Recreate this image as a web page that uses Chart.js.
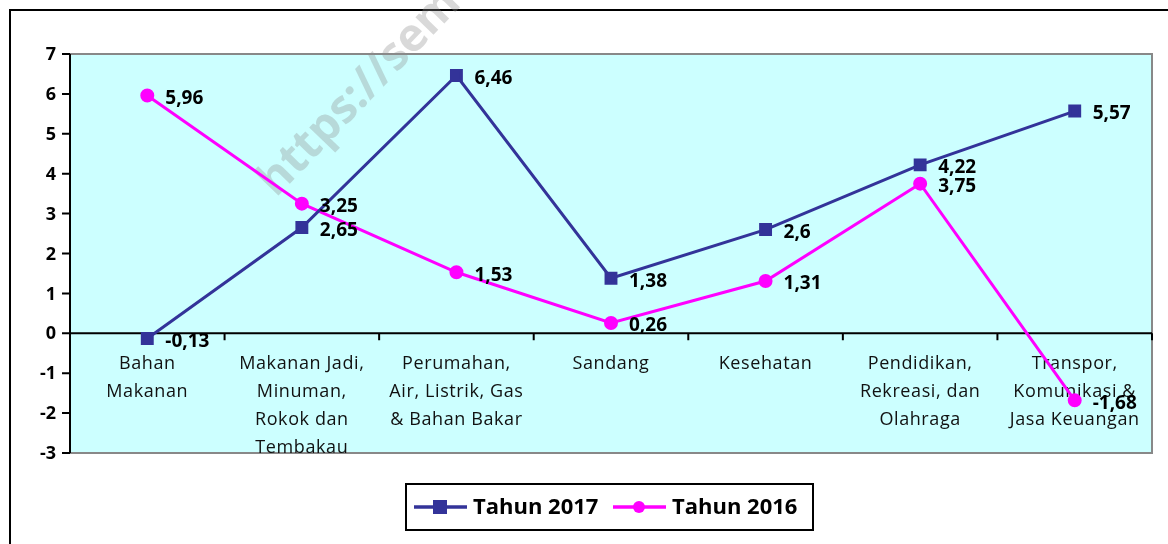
<!DOCTYPE html>
<html>
<head>
<meta charset="utf-8">
<script src="https://cdn.jsdelivr.net/npm/chart.js@4"></script>
<style>
  html, body { margin: 0; padding: 0; background: #fff; }
  #wrap { width: 1168px; height: 544px; position: relative; }
</style>
</head>
<body>
<div id="wrap"><canvas id="chart" width="1168" height="544"></canvas></div>
<script>
const categories = [
  ['Bahan', 'Makanan'],
  ['Makanan Jadi,', 'Minuman,', 'Rokok dan', 'Tembakau'],
  ['Perumahan,', 'Air, Listrik, Gas', '& Bahan Bakar'],
  ['Sandang'],
  ['Kesehatan'],
  ['Pendidikan,', 'Rekreasi, dan', 'Olahraga'],
  ['Transpor,', 'Komunikasi &', 'Jasa Keuangan']
];
const tahun2017 = [-0.13, 2.65, 6.46, 1.38, 2.6, 4.22, 5.57];
const tahun2016 = [5.96, 3.25, 1.53, 0.26, 1.31, 3.75, -1.68];
const yTicks = [-3, -2, -1, 0, 1, 2, 3, 4, 5, 6, 7];

const fmt = v => String(v).replace('.', ',');

// background, frame, axes, category labels, watermark
const framePlugin = {
  id: 'frame',
  beforeDatasetsDraw(chart) {
    const { ctx, chartArea: a, scales: { x, y } } = chart;
    ctx.save();
    ctx.fillStyle = '#CCFFFF';
    ctx.fillRect(a.left, a.top, a.right - a.left, a.bottom - a.top);

    // outer border
    ctx.strokeStyle = '#000';
    ctx.lineWidth = 2;
    ctx.beginPath();
    ctx.moveTo(10, 544); ctx.lineTo(10, 10); ctx.lineTo(1168, 10);
    ctx.stroke();

    // plot border (gray top/right/bottom)
    ctx.strokeStyle = '#888';
    ctx.lineWidth = 2;
    ctx.beginPath();
    ctx.moveTo(a.left, a.top); ctx.lineTo(a.right, a.top);
    ctx.lineTo(a.right, a.bottom); ctx.lineTo(a.left, a.bottom);
    ctx.stroke();

    // y axis + ticks
    ctx.strokeStyle = '#000';
    ctx.beginPath();
    ctx.moveTo(a.left, a.top); ctx.lineTo(a.left, a.bottom);
    yTicks.forEach(t => {
      const py = y.getPixelForValue(t);
      ctx.moveTo(a.left - 8, py); ctx.lineTo(a.left, py);
    });
    ctx.stroke();
    ctx.fillStyle = '#000';
    ctx.font = 'bold 18px "Open Sans"';
    ctx.textAlign = 'right';
    ctx.textBaseline = 'middle';
    yTicks.forEach(t => ctx.fillText(String(t), a.left - 14, y.getPixelForValue(t) + 1));

    // zero line with ticks at category boundaries
    const y0 = y.getPixelForValue(0);
    ctx.beginPath();
    ctx.moveTo(a.left, y0); ctx.lineTo(a.right, y0);
    for (let i = 0; i < categories.length; i++) {
      const bx = x.getPixelForValue(i) + (x.getPixelForValue(1) - x.getPixelForValue(0)) / 2;
      ctx.moveTo(bx, y0); ctx.lineTo(bx, y0 + 7);
    }
    ctx.stroke();

    // category labels
    ctx.fillStyle = '#111';
    ctx.font = '18px "Open Sans"';
    ctx.letterSpacing = '0.6px';
    ctx.textAlign = 'center';
    ctx.textBaseline = 'middle';
    categories.forEach((lines, i) => {
      const cx = x.getPixelForValue(i);
      lines.forEach((ln, j) => ctx.fillText(ln, cx, y0 + 31 + j * 28));
    });
    ctx.letterSpacing = '0px';

    // watermark
    ctx.save();
    ctx.translate(276, 198);
    ctx.rotate(-46 * Math.PI / 180);
    ctx.fillStyle = 'rgba(140,140,140,0.33)';
    ctx.font = 'bold 46px "Open Sans"';
    ctx.textAlign = 'left';
    ctx.textBaseline = 'alphabetic';
    ctx.fillText('https://sem', 0, 0);
    ctx.restore();
    ctx.restore();
  },
  afterDatasetsDraw(chart) {
    const { ctx } = chart;
    ctx.save();
    ctx.fillStyle = '#000';
    ctx.font = 'bold 19px "Open Sans"';
    ctx.textAlign = 'left';
    ctx.textBaseline = 'middle';
    chart.data.datasets.forEach((ds, di) => {
      chart.getDatasetMeta(di).data.forEach((pt, i) => {
        ctx.fillText(fmt(ds.data[i]), pt.x + 18, pt.y + 3);
      });
    });

    // legend
    const lx = 406, ly = 484, lw = 407, lh = 46;
    ctx.fillStyle = '#fff';
    ctx.fillRect(lx, ly, lw, lh);
    ctx.strokeStyle = '#000';
    ctx.lineWidth = 2;
    ctx.strokeRect(lx, ly, lw, lh);
    const my = ly + lh / 2;
    const items = [
      { x: 414, ds: chart.data.datasets[0] },
      { x: 613, ds: chart.data.datasets[1] }
    ];
    ctx.font = 'bold 22px "Open Sans"';
    items.forEach(it => {
      ctx.strokeStyle = it.ds.borderColor;
      ctx.lineWidth = 3.5;
      ctx.beginPath();
      ctx.moveTo(it.x, my); ctx.lineTo(it.x + 53, my);
      ctx.stroke();
      ctx.fillStyle = it.ds.borderColor;
      if (it.ds.pointStyle === 'rect') {
        ctx.fillRect(it.x + 19, my - 7, 14, 14);
      } else {
        ctx.beginPath();
        ctx.arc(it.x + 26, my, 6, 0, Math.PI * 2);
        ctx.fill();
      }
      ctx.fillStyle = '#000';
      ctx.fillText(it.ds.label, it.x + 59, my + 1);
    });
    ctx.restore();
  }
};

new Chart(document.getElementById('chart'), {
  type: 'line',
  data: {
    labels: categories,
    datasets: [
      {
        label: 'Tahun 2017',
        data: tahun2017,
        borderColor: '#333399',
        backgroundColor: '#333399',
        borderWidth: 3,
        pointStyle: 'rect',
        pointRadius: 7,
        pointHoverRadius: 7,
        tension: 0
      },
      {
        label: 'Tahun 2016',
        data: tahun2016,
        borderColor: '#FF00FF',
        backgroundColor: '#FF00FF',
        borderWidth: 3,
        pointStyle: 'circle',
        pointRadius: 5.5,
        pointHoverRadius: 5.5,
        tension: 0
      }
    ]
  },
  options: {
    responsive: false,
    animation: false,
    layout: { padding: { left: 70, top: 54, right: 16, bottom: 91 } },
    plugins: { legend: { display: false }, tooltip: { enabled: false } },
    scales: {
      x: { display: false, offset: true },
      y: { display: false, min: -3, max: 7 }
    }
  },
  plugins: [framePlugin]
});
</script>
</body>
</html>
